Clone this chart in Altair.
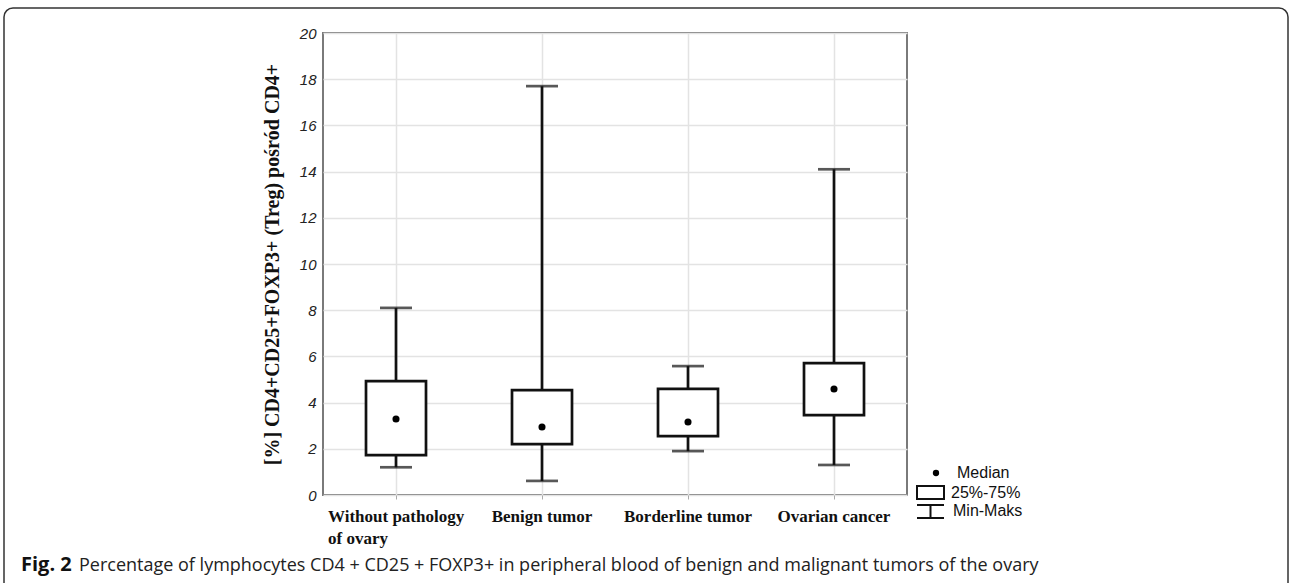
import altair as alt
import pandas as pd

categories = ["Without pathology of ovary", "Benign tumor", "Borderline tumor", "Ovarian cancer"]
mins = [1.2, 0.61, 1.9, 1.3]
q1s = [1.73, 2.2, 2.55, 3.46]
medians = [3.29, 2.94, 3.16, 4.59]
q3s = [4.93, 4.54, 4.59, 5.71]
maxs = [8.1, 17.7, 5.58, 14.1]

y_title = "[%] CD4+CD25+FOXP3+ (Treg) pośród CD4+"
caption_bold = "Fig. 2"
caption_rest = "Percentage of lymphocytes CD4 + CD25 + FOXP3+ in peripheral blood of benign and malignant tumors of the ovary"
legend_labels = ["Median", "25%-75%", "Min-Maks"]

df = pd.DataFrame({"cat": categories, "min": mins, "q1": q1s, "med": medians,
                   "q3": q3s, "max": maxs})

W, H = 584, 462
first = categories[0]

x_enc = alt.X("cat:N", sort=categories, title=None,
              scale=alt.Scale(paddingInner=0, paddingOuter=0),
              axis=alt.Axis(
                  labelAngle=0,
                  labelFont="Liberation Serif", labelFontWeight="bold", labelFontSize=17,
                  labelColor="#111",
                  labelExpr="datum.label == 'Without pathology of ovary' ? ['Without pathology', 'of ovary'] : datum.label",
                  labelAlign={"condition": {"test": f"datum.value == '{first}'", "value": "left"}, "value": "center"},
                  labelOffset={"condition": {"test": f"datum.value == '{first}'", "value": -68}, "value": 0},
                  labelLineHeight=22,
                  labelPadding=9,
                  labelBaseline="top",
                  tickSize=4, tickColor="#aaa",
                  domain=False,
                  grid=True, gridColor="#e3e3e3", gridWidth=1.5,
              ))

y_scale = alt.Scale(domain=[0, 20], nice=False)
y_axis = alt.Axis(values=list(range(0, 21, 2)), title=y_title,
                  titleFont="Liberation Serif", titleFontWeight="bold", titleFontSize=20,
                  titleColor="#111", titlePadding=17,
                  labelFont="Liberation Sans", labelFontStyle="italic", labelFontSize=15,
                  labelColor="#222", labelPadding=7, tickSize=0, domain=False,
                  grid=True, gridColor="#e3e3e3", gridWidth=1.5)

base = alt.Chart(df)

whisker = base.mark_rule(color="#111", strokeWidth=2.7).encode(
    x=x_enc, y=alt.Y("min:Q", scale=y_scale, axis=y_axis), y2="max:Q")
cap_lo = base.mark_tick(color="#111", thickness=2.7, size=32, orient="horizontal").encode(
    x=alt.X("cat:N", sort=categories), y="min:Q")
cap_hi = base.mark_tick(color="#111", thickness=2.7, size=32, orient="horizontal").encode(
    x=alt.X("cat:N", sort=categories), y="max:Q")
box = base.mark_bar(fill="white", stroke="#111", strokeWidth=2.7, size=60).encode(
    x=alt.X("cat:N", sort=categories), y="q1:Q", y2="q3:Q")
med = base.mark_point(filled=True, color="#000", size=50, opacity=1).encode(
    x=alt.X("cat:N", sort=categories), y="med:Q")

# legend (drawn at pixel positions relative to the plot area)
one = pd.DataFrame({"a": [0]})
leg_dot = alt.Chart(one).mark_point(filled=True, color="#000", size=40, opacity=1).encode(
    x=alt.value(613), y=alt.value(440))
leg_box = alt.Chart(one).mark_rect(fill="white", stroke="#111", strokeWidth=2).encode(
    x=alt.value(594), x2=alt.value(621), y=alt.value(453), y2=alt.value(466))
leg_l1 = alt.Chart(one).mark_rule(color="#111", strokeWidth=2).encode(
    x=alt.value(594), x2=alt.value(621), y=alt.value(472))
leg_l2 = alt.Chart(one).mark_rule(color="#111", strokeWidth=2).encode(
    x=alt.value(594), x2=alt.value(621), y=alt.value(485))
leg_l3 = alt.Chart(one).mark_rule(color="#111", strokeWidth=2).encode(
    x=alt.value(607.5), y=alt.value(472), y2=alt.value(485))
leg_df = pd.DataFrame({"t": legend_labels, "yy": [440, 460, 478], "xx": [634, 628, 630]})
leg_text = alt.Chart(leg_df).mark_text(align="left", baseline="middle", font="Liberation Sans",
                                        fontSize=16, color="#111").encode(
    x=alt.X("xx:Q", scale=None), y=alt.Y("yy:Q", scale=None), text="t:N")

# caption
cap1 = alt.Chart(pd.DataFrame({"t": [caption_bold]})).mark_text(
    align="left", baseline="alphabetic", font="Open Sans", fontWeight="bold", fontSize=20, color="#111").encode(
    x=alt.value(-302), y=alt.value(538), text="t:N")
cap2 = alt.Chart(pd.DataFrame({"t": [caption_rest]})).mark_text(
    align="left", baseline="alphabetic", font="Open Sans", fontSize=18, color="#222").encode(
    x=alt.value(-244), y=alt.value(538), text="t:N")

frame = alt.Chart(one).mark_rect(
    fill=None, stroke="#333", strokeWidth=1.5, cornerRadius=9).encode(
    x=alt.value(-319), x2=alt.value(965), y=alt.value(-25), y2=alt.value(575))

chart = alt.layer(frame, whisker, cap_lo, cap_hi, box, med,
                  leg_dot, leg_box, leg_l1, leg_l2, leg_l3, leg_text, cap1, cap2).properties(
    width=W, height=H,
    padding={"left": 323, "top": 33, "right": 1290 - 323 - W, "bottom": 583 - 33 - H},
    autosize=alt.AutoSizeParams(type="none"),
    background="white",
).configure_view(stroke="#7a7a7a", strokeWidth=2)

chart.save("out.html", embed_options={"renderer": "svg", "actions": False})
